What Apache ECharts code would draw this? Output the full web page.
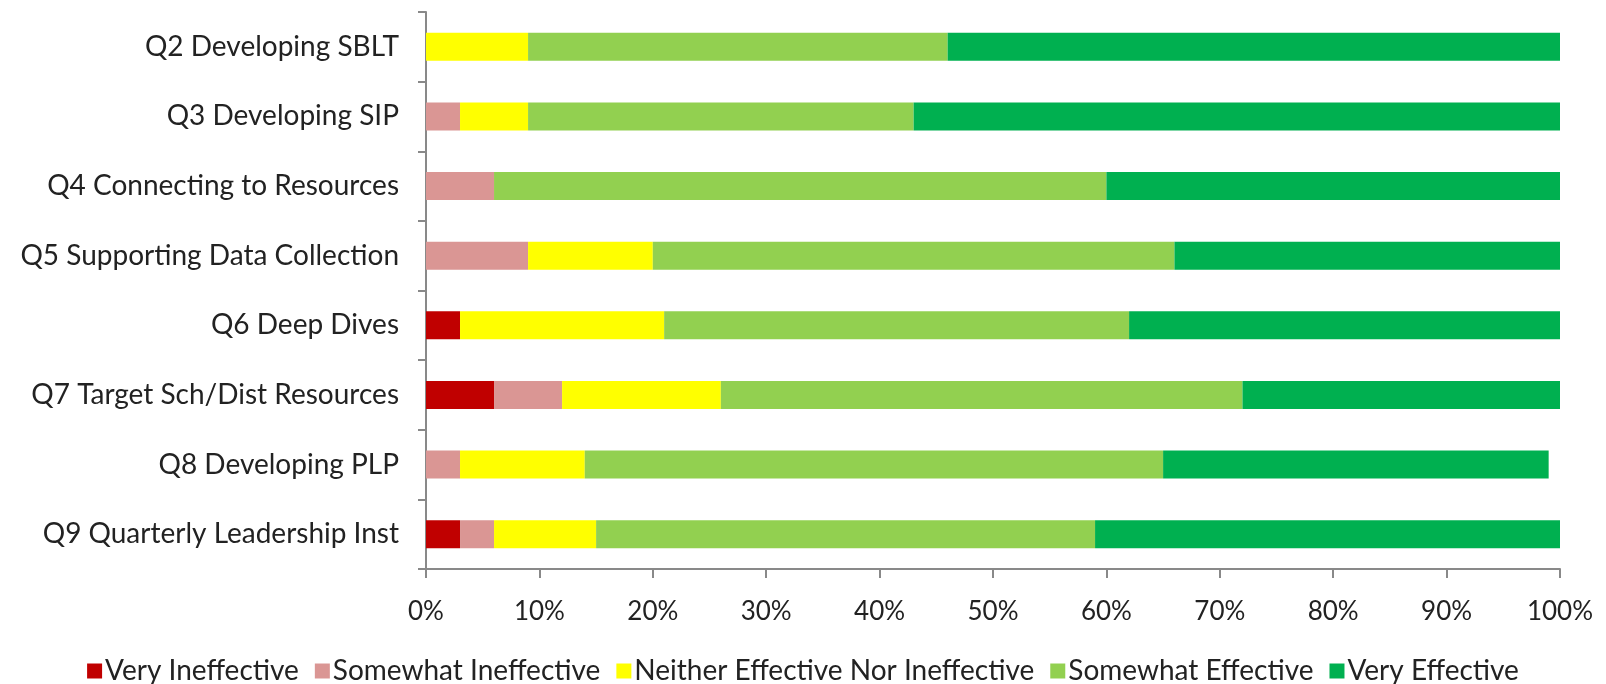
<!DOCTYPE html>
<html>
<head>
<meta charset="utf-8">
<script src="https://cdn.jsdelivr.net/npm/echarts@6/dist/echarts.min.js"></script>
<style>
  html, body { margin: 0; padding: 0; background: #fff; }
  #chart { width: 1606px; height: 684px; }
</style>
</head>
<body>
<div id="chart"></div>
<script>
const categories = [
  'Q2 Developing SBLT',
  'Q3 Developing SIP',
  'Q4 Connecting to Resources',
  'Q5 Supporting Data Collection',
  'Q6 Deep Dives',
  'Q7 Target Sch/Dist Resources',
  'Q8 Developing PLP',
  'Q9 Quarterly Leadership Inst'
]

const seriesNames = [
  'Very Ineffective',
  'Somewhat Ineffective',
  'Neither Effective Nor Ineffective',
  'Somewhat Effective',
  'Very Effective'
]

// percent of responses
const veryIneffective = [0, 0, 0, 0, 3, 6, 0, 3]
const somewhatIneffective = [0, 3, 6, 9, 0, 6, 3, 3]
const neither = [9, 6, 0, 11, 18, 14, 11, 9]
const somewhatEffective = [37, 34, 54, 46, 41, 46, 51, 44]
const veryEffective = [54, 57, 40, 34, 38, 28, 34, 41]

const xTicks = [0, 10, 20, 30, 40, 50, 60, 70, 80, 90, 100]

const colors = ['#C00000', '#DA9694', '#FFFF00', '#92D050', '#00B050']
const seriesData = [veryIneffective, somewhatIneffective, neither, somewhatEffective, veryEffective]

const fontFamily = 'Lato, "Open Sans", sans-serif'
const textColor = '#222'
const axisColor = '#898989'

const chart = echarts.init(document.getElementById('chart'), null, { renderer: 'canvas' })

const option = {
  animation: false,
  textStyle: { fontFamily },
  grid: {
    left: 426,
    right: 46,
    top: 12,
    bottom: 115,
    containLabel: false
  },
  legend: {
    top: 652,
    left: 'center',
    itemWidth: 15,
    itemHeight: 15,
    itemGap: 16,
    icon: 'rect',
    textStyle: { color: textColor, fontSize: 28, fontFamily, padding: [0, 0, 0, -2] },
    data: seriesNames
  },
  xAxis: {
    type: 'value',
    min: xTicks[0],
    max: xTicks[xTicks.length - 1],
    interval: 10,
    axisLine: { show: true, lineStyle: { color: axisColor, width: 2 } },
    axisTick: { show: true, length: 9, lineStyle: { color: axisColor, width: 2 } },
    splitLine: { show: false },
    axisLabel: {
      formatter: '{value}%',
      color: textColor,
      fontSize: 26,
      fontFamily,
      margin: 30
    }
  },
  yAxis: {
    type: 'category',
    inverse: true,
    data: categories,
    axisLine: { show: true, lineStyle: { color: axisColor, width: 2 } },
    axisTick: { show: true, length: 8, lineStyle: { color: axisColor, width: 2 } },
    axisLabel: {
      color: textColor,
      fontSize: 28,
      fontFamily,
      margin: 27
    }
  },
  series: seriesNames.map((name, i) => ({
    name,
    type: 'bar',
    stack: 'total',
    barWidth: 28,
    data: seriesData[i],
    itemStyle: { color: colors[i] }
  }))
}

chart.setOption(option)
</script>
</body>
</html>
